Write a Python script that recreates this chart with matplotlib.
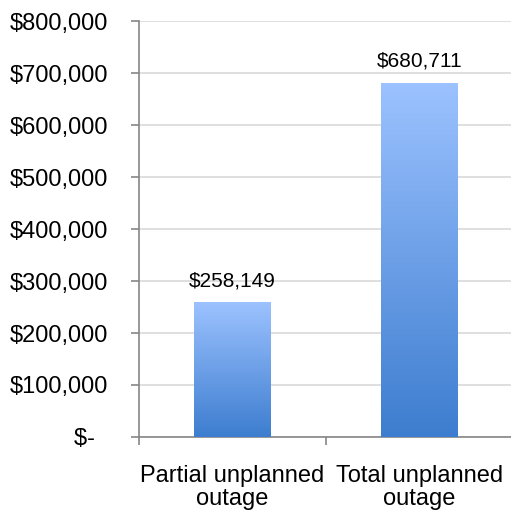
import numpy as np
import matplotlib.pyplot as plt
from matplotlib.colors import LinearSegmentedColormap
from matplotlib.ticker import FuncFormatter

plt.rcParams['font.family'] = ['Liberation Sans', 'DejaVu Sans']

categories = ['Partial unplanned\noutage', 'Total unplanned\noutage']
values = [258149, 680711]
value_labels = ['$258,149', '$680,711']

fig = plt.figure(figsize=(5.11, 5.15), dpi=100)
ax = fig.add_axes([0.272, 0.1515, 0.732, 0.8075])

cmap = LinearSegmentedColormap.from_list('bar', ['#3d7dcf', '#9cc2ff'])
grad = np.linspace(0, 1, 256).reshape(-1, 1)
width = 0.41
x = np.arange(len(categories))
bars = ax.bar(x, values, width=width, color='none', zorder=3)
for b in bars:
    x0, y0 = b.get_x(), b.get_y()
    ax.imshow(grad, cmap=cmap, origin='lower', aspect='auto',
              extent=[x0, x0 + b.get_width(), y0, y0 + b.get_height()], zorder=3)

for xi, v, lab in zip(x, values, value_labels):
    ax.annotate(lab, (xi, v), xytext=(0, 9), textcoords='offset points',
                ha='center', va='bottom', fontsize=15)

ax.set_xlim(-0.5, 1.5)
ax.set_ylim(0, 800000)
ax.set_yticks(np.arange(0, 800001, 100000))
# accounting format: zero shown as "$-" with trailing padding
ax.yaxis.set_major_formatter(FuncFormatter(lambda v, p: '$-  ' if v == 0 else f'${v:,.0f}'))
ax.set_xticks([-0.5, 0.5])
ax.set_xticklabels([])
ax.set_xticks(x, minor=True)
ax.set_xticklabels(categories, minor=True, fontsize=17, linespacing=1.1)
ax.tick_params(axis='x', which='minor', length=0, pad=20)
ax.tick_params(axis='x', which='major', length=6, color='#868686', width=1.2)
ax.tick_params(axis='y', length=6, color='#868686', width=1.2, labelsize=17, pad=16)

ax.grid(axis='y', color='#d9d9d9', linewidth=1.2, zorder=0)
ax.set_axisbelow(True)
for s in ['top', 'right']:
    ax.spines[s].set_visible(False)
for s in ['left', 'bottom']:
    ax.spines[s].set_color('#868686')
    ax.spines[s].set_linewidth(1.2)

fig.savefig('out.png', dpi=100)
